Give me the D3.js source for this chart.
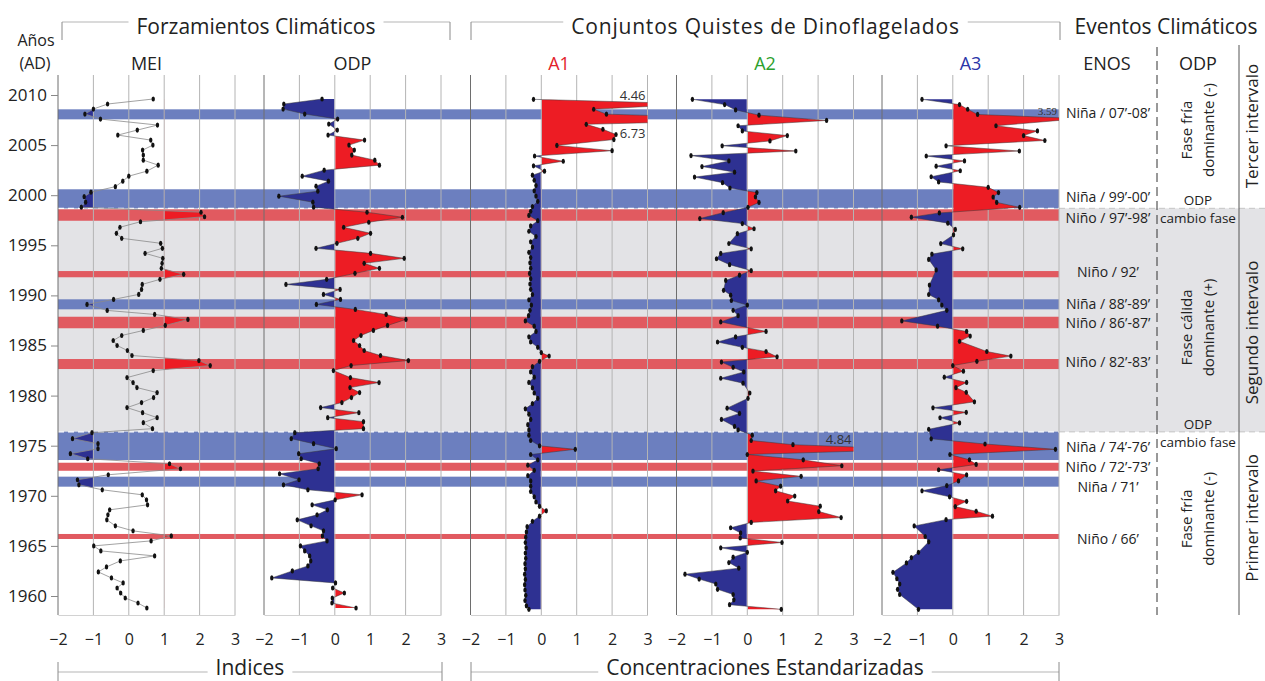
<!DOCTYPE html>
<html>
<head>
<meta charset="utf-8">
<script src="https://cdn.jsdelivr.net/npm/d3@7"></script>
<style>
body { margin:0; background:#fff; }
svg text { font-family: "Open Sans", sans-serif; fill:#222; }
</style>
</head>
<body>
<svg id="chart" width="1265" height="681"></svg>
<script>
// series are [year, value]
var meiData = [
[2009.6,0.69],[2009.1,-0.60],[2008.6,-1.00],[2008.1,-1.24],[2007.6,-0.80],[2007.0,0.81],[2006.5,0.24],[2006.0,-0.31],[2005.5,0.62],[2005.0,0.68],
[2004.5,0.39],[2004.0,0.41],[2003.5,0.41],[2003.0,0.83],[2002.4,0.51],[2001.9,0.00],[2001.4,-0.17],[2000.85,-0.38],[2000.3,-1.07],[1999.85,-1.26],
[1999.3,-1.22],[1998.8,-1.34],[1998.3,2.04],[1997.85,2.14],[1997.35,0.33],[1996.8,-0.25],[1996.2,-0.35],[1995.7,-0.20],[1995.2,0.90],[1994.7,0.95],
[1994.2,0.46],[1993.7,0.96],[1993.2,0.94],[1992.7,0.92],[1992.1,1.55],[1991.6,0.88],[1991.1,0.38],[1990.6,0.36],[1990.1,0.28],[1989.6,-0.43],
[1989.1,-1.18],[1988.5,-0.61],[1988.1,0.73],[1987.6,1.67],[1987.0,1.03],[1986.5,0.41],[1986.0,-0.20],[1985.5,-0.44],[1985.0,-0.33],[1984.5,-0.04],
[1984.0,0.09],[1983.5,1.98],[1983.0,2.30],[1982.5,0.69],[1981.8,-0.05],[1981.3,0.12],[1980.8,0.23],[1980.3,0.80],[1979.8,0.70],[1979.3,0.36],
[1978.8,-0.05],[1978.3,0.39],[1977.8,0.80],[1977.3,0.41],[1976.7,0.67],[1976.3,-1.04],[1975.7,-1.59],[1975.2,-0.87],[1974.7,-0.87],[1974.2,-1.65],
[1973.7,-1.16],[1973.2,1.15],[1972.7,1.46],[1972.1,-0.58],[1971.6,-1.45],[1971.1,-1.41],[1970.6,-0.75],[1970.1,0.38],[1969.6,0.50],[1969.1,0.53],
[1968.6,-0.54],[1968.1,-0.59],[1967.6,-0.62],[1967.0,-0.38],[1966.5,0.12],[1966.0,1.20],[1965.5,0.63],[1965.0,-0.99],[1964.5,-0.79],[1964.0,0.73],
[1963.5,-0.24],[1962.9,-0.63],[1962.4,-0.86],[1961.8,-0.49],[1961.3,-0.16],[1960.8,-0.33],[1960.3,-0.23],[1959.8,-0.10],[1959.3,0.26],[1958.8,0.51]
];

var odpData = [
[2009.6,-0.36],[2009.1,-1.44],[2008.6,-1.46],[2008.1,-0.85],[2007.6,0.08],[2007.1,-0.17],[2006.5,0.07],[2006.0,-0.19],[2005.5,0.84],[2005.0,0.40],
[2004.5,0.55],[2004.0,0.48],[2003.5,1.13],[2003.0,1.26],[2002.5,-0.30],[2001.9,-0.92],[2001.4,-0.18],[2000.9,-0.53],[2000.4,-0.48],[1999.9,-1.58],
[1999.3,-0.62],[1998.8,-0.60],[1998.3,0.91],[1997.8,1.91],[1997.3,0.96],[1996.8,0.25],[1996.2,1.01],[1995.7,0.65],[1995.2,0.06],[1994.7,-0.53],
[1994.2,1.01],[1993.7,1.96],[1993.2,0.83],[1992.7,1.26],[1992.2,0.57],[1991.6,-0.23],[1991.1,-1.38],[1990.6,0.15],[1990.1,-0.32],[1989.6,0.16],
[1989.1,-0.52],[1988.6,0.58],[1988.1,1.45],[1987.6,2.01],[1987.0,1.49],[1986.5,1.09],[1986.0,0.74],[1985.5,0.53],[1985.0,0.70],[1984.5,0.83],
[1984.0,1.29],[1983.5,2.08],[1983.0,0.46],[1982.5,-0.04],[1981.8,0.44],[1981.3,1.25],[1980.8,0.43],[1980.3,0.70],[1979.8,0.47],[1979.3,0.20],
[1978.8,-0.40],[1978.3,0.68],[1977.8,-0.20],[1977.4,0.81],[1976.7,0.81],[1976.3,-1.13],[1975.7,-1.23],[1975.2,-0.60],[1974.7,0.04],[1974.2,-1.02],
[1973.7,-0.95],[1973.2,-0.44],[1972.7,-0.47],[1972.2,-1.56],[1971.6,-1.01],[1971.1,-1.45],[1970.6,-0.76],[1970.1,0.77],[1969.6,0.01],[1969.1,-0.64],
[1968.6,-0.21],[1968.1,-0.50],[1967.6,-1.06],[1967.0,-0.67],[1966.5,-0.32],[1966.0,-0.35],[1965.5,-0.22],[1965.0,-0.97],[1964.5,-0.85],[1964.0,-0.71],
[1963.5,-0.68],[1963.0,-0.76],[1962.5,-1.20],[1961.8,-1.78],[1961.3,0.02],[1960.8,-0.06],[1960.3,0.27],[1959.8,-0.07],[1959.3,-0.08],[1958.8,0.60]
];

var a1Data = [
[2009.57,-0.22],[2009.11,4.46],[2008.58,1.48],[2008.09,1.84],[2007.57,6.73],[2007.07,1.27],[2006.58,1.74],[2006.06,2.11],[2005.55,2.05],[2004.97,0.44],
[2004.44,2.00],[2003.91,-0.19],[2003.39,0.62],[2002.93,-0.22],[2002.40,0.09],[2002.0,-0.25],[2001.49,-0.20],[2000.97,-0.15],[2000.44,-0.20],[1999.91,-0.15],
[1999.39,-0.10],[1998.86,-0.25],[1998.4,-0.30],[1997.98,-0.35],[1997.46,-0.10],[1996.93,-0.30],[1996.40,-0.35],[1995.88,-0.15],[1995.35,-0.30],[1994.82,-0.25],
[1994.30,-0.35],[1993.77,-0.30],[1993.25,-0.32],[1992.72,-0.30],[1992.19,-0.33],[1991.67,-0.30],[1991.14,-0.32],[1990.61,-0.30],[1990.09,-0.25],[1989.56,-0.35],
[1989.03,-0.28],[1988.51,-0.32],[1987.98,-0.36],[1987.45,-0.45],[1986.93,-0.20],[1986.40,-0.15],[1985.87,-0.35],[1985.35,-0.30],[1984.82,-0.10],[1984.29,0.00],
[1983.94,0.22],[1983.42,-0.05],[1982.89,-0.25],[1982.36,-0.30],[1981.84,-0.20],[1981.31,-0.35],[1980.78,-0.25],[1980.26,-0.20],[1979.73,-0.10],[1979.20,-0.25],
[1978.68,-0.45],[1978.15,-0.35],[1977.62,-0.30],[1977.10,-0.38],[1976.57,-0.35],[1976.05,-0.35],[1975.52,-0.30],[1974.99,-0.05],[1974.64,0.96],[1974.12,-0.30],
[1973.59,-0.10],[1973.06,-0.38],[1972.54,-0.20],[1972.01,-0.38],[1971.48,-0.30],[1970.96,-0.30],[1970.43,-0.30],[1969.90,-0.20],[1969.38,-0.15],[1968.95,-0.05],
[1968.50,0.14],[1967.97,-0.05],[1967.45,-0.25],[1966.92,-0.40],[1966.39,-0.42],[1965.87,-0.44],[1965.34,-0.45],[1964.81,-0.43],[1964.29,-0.45],[1963.76,-0.44],
[1963.23,-0.46],[1962.71,-0.45],[1962.18,-0.47],[1961.65,-0.45],[1961.13,-0.47],[1960.60,-0.46],[1960.07,-0.44],[1959.55,-0.46],[1959.02,-0.42],[1958.67,-0.35]
];

var a2Data = [
[2009.57,-1.55],[2009.04,-0.64],[2008.51,-0.33],[2007.99,0.33],[2007.46,2.24],[2006.93,-0.26],[2006.41,-0.14],[2005.95,1.13],[2005.42,0.64],[2004.93,-0.71],
[2004.41,1.37],[2003.95,-1.59],[2003.42,-0.52],[2002.86,-1.28],[2002.30,-0.36],[2001.81,-1.49],[2001.25,-0.70],[2000.72,-0.49],[2000.26,0.27],[1999.84,0.23],
[1999.28,0.33],[1998.79,0.02],[1998.26,-0.68],[1997.67,-1.34],[1997.17,-0.14],[1996.65,0.19],[1996.16,-0.28],[1995.18,-0.52],[1994.65,0.11],[1994.19,-0.75],
[1993.66,-0.87],[1993.07,-0.50],[1992.47,0.11],[1992.02,-0.22],[1991.49,-0.61],[1990.51,-0.67],[1990.02,-0.47],[1989.49,-0.45],[1989.03,0.00],[1988.51,-0.40],
[1987.98,-0.26],[1987.35,-0.75],[1986.40,0.53],[1985.87,-0.33],[1985.35,-0.84],[1984.82,-0.14],[1984.40,0.53],[1983.87,0.84],[1983.35,-0.73],[1982.82,-0.40],
[1982.36,-0.10],[1981.73,-0.75],[1981.24,-0.12],[1980.26,0.07],[1979.73,0.02],[1978.75,-0.57],[1978.22,-0.22],[1977.62,-0.73],[1976.92,-0.36],[1976.57,-0.26],
[1976.05,0.14],[1975.52,0.11],[1975.10,1.29],[1974.64,4.84],[1974.12,0.00],[1973.59,1.58],[1973.00,2.67],[1972.47,0.16],[1971.94,1.52],[1971.48,0.25],
[1970.96,0.94],[1970.50,0.80],[1969.97,1.34],[1969.48,1.14],[1968.96,2.06],[1968.43,2.02],[1967.83,2.65],[1967.34,0.11],[1966.81,-0.47],[1966.29,-0.19],
[1965.80,-0.20],[1965.34,0.98],[1964.81,-0.75],[1964.36,0.00],[1963.87,-0.40],[1963.34,-0.52],[1962.78,-0.24],[1962.18,-1.76],[1961.69,-1.36],[1961.20,-0.89],
[1960.67,-0.84],[1960.15,-0.40],[1959.62,-0.38],[1959.13,-0.50],[1958.67,0.96]
];

var a3Data = [
[2009.57,-0.87],[2009.04,0.19],[2008.58,0.42],[2008.06,0.70],[2007.64,3.59],[2006.93,1.22],[2006.41,2.39],[2005.95,2.00],[2005.46,2.60],[2004.93,-0.19],
[2004.41,1.88],[2003.91,-0.75],[2003.42,0.33],[2002.90,-0.47],[2002.44,0.21],[2001.84,-0.61],[2001.32,-0.40],[2000.79,1.00],[2000.26,1.29],[1999.81,1.14],
[1999.28,1.24],[1998.79,1.89],[1998.23,-0.38],[1997.81,-1.17],[1997.21,-0.14],[1996.58,0.07],[1996.05,0.02],[1995.17,-0.34],[1994.65,0.28],[1994.12,-0.59],
[1993.59,-0.68],[1992.54,-0.47],[1991.03,-0.66],[1990.09,-0.68],[1989.56,-0.40],[1989.03,-0.31],[1988.51,-0.17],[1987.45,-1.44],[1986.93,-0.43],[1986.40,0.39],
[1985.94,0.49],[1985.42,0.19],[1984.40,0.96],[1983.94,1.64],[1983.42,0.68],[1983.00,0.00],[1982.44,0.30],[1981.84,-0.24],[1981.31,0.39],[1980.79,0.09],
[1980.33,0.38],[1979.38,0.61],[1978.78,-0.56],[1978.33,0.38],[1977.79,-0.36],[1977.27,0.19],[1976.64,-0.68],[1975.69,-0.61],[1975.17,0.91],[1974.64,2.90],
[1974.12,-0.08],[1973.59,0.47],[1973.13,0.66],[1972.60,-0.40],[1972.08,0.39],[1971.48,0.16],[1971.02,-0.17],[1970.50,-0.87],[1969.90,-0.09],[1969.45,0.39],
[1968.92,0.07],[1968.46,0.66],[1967.97,1.12],[1967.62,-0.19],[1966.99,-1.09],[1965.94,-0.78],[1965.41,-0.68],[1964.36,-0.97],[1963.83,-1.17],[1963.30,-1.31],
[1962.36,-1.69],[1961.72,-1.58],[1961.20,-1.50],[1960.67,-1.56],[1960.15,-1.50],[1958.67,-0.97]
];

var panelNames = ["MEI", "ODP", "A1", "A2", "A3"];
var panelTitleColors = ["#222", "#222", "#e3222b", "#2ca02c", "#2b35a8"];
var xTicks = [-2, -1, 0, 1, 2, 3];
var yearTicks = [1960, 1965, 1970, 1975, 1980, 1985, 1990, 1995, 2000, 2005, 2010];

// El Niño / La Niña bands [from year, to year]
var ninaBands = [[2008.57, 2007.57], [2000.59, 1998.69], [1989.61, 1988.61], [1976.40, 1973.57], [1971.91, 1970.91]];
var ninoBands = [[1998.59, 1997.45], [1992.43, 1991.81], [1987.87, 1986.72], [1983.65, 1982.65], [1973.30, 1972.50], [1966.19, 1965.69]];
var secondInterval = [1998.69, 1976.38];

var ensoLabels = [
["Niña / 07’-08’", 2008.2], ["Niña / 99’-00’", 1999.8], ["Niño / 97’-98’", 1997.7], ["Niño / 92’", 1992.3],
["Niña / 88’-89’", 1989.1], ["Niño / 86’-87’", 1987.2], ["Niño / 82’-83’", 1983.3], ["Niña / 74’-76’", 1974.9],
["Niño / 72’-73’", 1972.9], ["Niña / 71’", 1970.9], ["Niño / 66’", 1965.7]
];
var odpPhaseLabels = [
[["Fase fría", "dominante (-)"], 2006.5],
[["Fase cálida", "dominante (+)"], 1986.8],
[["Fase fría", "dominante (-)"], 1967.7]
];
var odpShiftLabels = [1998.2, 1975.8];
var intervalLabels = [["Tercer intervalo", 2006.9], ["Segundo intervalo", 1986.3], ["Primer intervalo", 1967.8]];

// values beyond the axis, written next to the clipped peak
var peakLabels = [
{panel: 2, text: "4.46", year: 2009.11, dy: -4},
{panel: 2, text: "6.73", year: 2007.57, dy: 19},
{panel: 3, text: "4.84", year: 1974.64, dy: -5},
{panel: 4, text: "3.59", year: 2007.64, dy: -4}
];

var svg = d3.select("#chart");
var defs = svg.append("defs");

var yScale = d3.scaleLinear().domain([2010, 1960]).range([95, 596]);
var plotTop = 75, plotBottom = 615;
var panelLeft = [58, 264, 470.5, 676.5, 882];
var panelWidth = 177;
var plotLeft = panelLeft[0];
var plotRight = panelLeft[4] + panelWidth;

var redFill = "#ed1c24", blueFill = "#2e3192";

var xScales = panelLeft.map(function(left)
{
    return d3.scaleLinear().domain([-2, 3]).range([left, left + panelWidth]);
});

// grey background of the second interval
var gTop = yScale(secondInterval[0]), gBot = yScale(secondInterval[1]);
svg.append("rect")
    .attr("x", plotLeft).attr("y", gTop)
    .attr("width", 1265 - plotLeft).attr("height", gBot - gTop)
    .attr("fill", "#e3e3e6");

var drawBands = function(bands, color)
{
    svg.append("g").selectAll("rect")
        .data(bands)
        .enter()
        .append("rect")
        .attr("x", plotLeft)
        .attr("width", plotRight - plotLeft)
        .attr("y", function(b){ return yScale(b[0]); })
        .attr("height", function(b){ return yScale(b[1]) - yScale(b[0]); })
        .attr("fill", color);
}
drawBands(ninaBands, "#6c7fbf");
drawBands(ninoBands, "#e15a60");

// dashed limits of the second interval
[gTop, gBot].forEach(function(y)
{
    svg.append("line").attr("x1", plotLeft).attr("x2", plotRight).attr("y1", y).attr("y2", y)
        .attr("stroke", "#fff").attr("stroke-width", 1.2).attr("stroke-dasharray", "6,4");
    svg.append("line").attr("x1", plotRight).attr("x2", 1265).attr("y1", y).attr("y2", y)
        .attr("stroke", "#c4c4c4").attr("stroke-width", 1).attr("stroke-dasharray", "6,4");
});

// gridlines and bottom axis of every panel
xScales.forEach(function(x, i)
{
    var grid = svg.append("g");
    grid.selectAll("line")
        .data(xTicks)
        .enter()
        .append("line")
        .attr("x1", function(d){ return x(d); })
        .attr("x2", function(d){ return x(d); })
        .attr("y1", plotTop)
        .attr("y2", plotBottom)
        .attr("stroke", function(d){ return d == -2 ? "#6e6e6e" : "#b4b4b4"; })
        .attr("stroke-width", 1);

    var axis = svg.append("g")
        .attr("transform", "translate(0," + plotBottom + ")")
        .call(d3.axisBottom(x).tickValues(xTicks).tickSize(0).tickPadding(19).tickFormat(d3.format("d")));
    axis.select(".domain").attr("stroke", "#d2d2d2");
    axis.selectAll("text").attr("font-size", 16).attr("fill", "#222")
        .style("font-family", '"Open Sans", sans-serif');

    svg.append("text")
        .attr("x", (x(-2) + x(3)) / 2)
        .attr("y", 70)
        .attr("text-anchor", "middle")
        .attr("font-size", 18)
        .style("fill", panelTitleColors[i])
        .text(panelNames[i]);
});

var makeClip = function(id, x0, x1)
{
    defs.append("clipPath").attr("id", id)
        .append("rect")
        .attr("x", x0).attr("y", plotTop)
        .attr("width", x1 - x0).attr("height", plotBottom - plotTop);
}

// fill between base and series, red to the right and blue to the left
var drawFill = function(g, data, x, redBase, blueBase, id)
{
    // half a pixel inside the base so flat parts leave no sliver
    makeClip(id + "r", x(redBase) + 0.6, x(3));
    makeClip(id + "b", x(-2), x(blueBase) - 0.6);
    var redArea = d3.area()
        .y(function(d){ return yScale(d[0]); })
        .x0(x(redBase))
        .x1(function(d){ return x(d[1]); });
    var blueArea = d3.area()
        .y(function(d){ return yScale(d[0]); })
        .x0(x(blueBase))
        .x1(function(d){ return x(d[1]); });
    g.append("path").datum(data).attr("d", redArea)
        .attr("fill", redFill).attr("clip-path", "url(#" + id + "r)");
    g.append("path").datum(data).attr("d", blueArea)
        .attr("fill", blueFill).attr("clip-path", "url(#" + id + "b)");
}

var drawLineAndDots = function(g, data, x, color, width, id)
{
    makeClip(id + "p", x(-2), x(3));
    var line = d3.line()
        .y(function(d){ return yScale(d[0]); })
        .x(function(d){ return x(d[1]); });
    g.append("path").datum(data).attr("d", line)
        .attr("fill", "none").attr("stroke", color).attr("stroke-width", width)
        .attr("clip-path", "url(#" + id + "p)");
    g.selectAll("ellipse")
        .data(data.filter(function(d){ return d[1] <= 3; }))
        .enter()
        .append("ellipse")
        .attr("cx", function(d){ return x(d[1]); })
        .attr("cy", function(d){ return yScale(d[0]); })
        .attr("rx", 1.7)
        .attr("ry", 2.6)
        .attr("fill", "#111");
}

var allSeries = [meiData, odpData, a1Data, a2Data, a3Data];
allSeries.forEach(function(data, i)
{
    var g = svg.append("g");
    var x = xScales[i];
    if (i == 0)
    {
        drawFill(g, data, x, 1, -1, "c" + i);
        drawLineAndDots(g, data, x, "#8a8a8a", 0.8, "c" + i);
    }
    else
    {
        drawFill(g, data, x, 0, 0, "c" + i);
        drawLineAndDots(g, data, x, "#3a3a3a", 0.5, "c" + i);
    }
});

peakLabels.forEach(function(p)
{
    var x = xScales[p.panel];
    svg.append("text")
        .attr("x", x(3) - 2)
        .attr("y", yScale(p.year) + p.dy)
        .attr("text-anchor", "end")
        .attr("font-size", p.panel == 4 ? 11 : 13)
        .style("font-family", p.panel == 4 ? '"Liberation Serif", serif' : '"Open Sans", sans-serif')
        .style("fill", "#333")
        .text(p.text);
});

// year axis
var yAxis = svg.append("g")
    .attr("transform", "translate(" + plotLeft + ",0)")
    .call(d3.axisLeft(yScale).tickValues(yearTicks).tickSize(7).tickPadding(4).tickFormat(d3.format("d")));
yAxis.select(".domain").remove();
yAxis.selectAll("line").attr("stroke", "#888");
yAxis.selectAll("text").attr("font-size", 17).attr("fill", "#222")
    .style("font-family", '"Open Sans", sans-serif');

svg.append("text").attr("x", 36).attr("y", 46).attr("text-anchor", "middle").attr("font-size", 16).text("Años");
svg.append("text").attr("x", 35).attr("y", 69).attr("text-anchor", "middle").attr("font-size", 16).text("(AD)");

// bracketed group titles
var drawBracket = function(x1, x2, yLine, yEnd1, yEnd2, label, textY, spacing)
{
    var cx = (x1 + x2) / 2;
    var t = svg.append("text")
        .attr("x", cx).attr("y", textY)
        .attr("text-anchor", "middle")
        .attr("font-size", 21)
        .attr("letter-spacing", spacing)
        .text(label);
    var w = t.node().getComputedTextLength();
    svg.append("line").attr("x1", x1).attr("x2", cx - w / 2 - 8).attr("y1", yLine).attr("y2", yLine)
        .attr("stroke", "#b5b5b5");
    svg.append("line").attr("x1", cx + w / 2 + 8).attr("x2", x2).attr("y1", yLine).attr("y2", yLine)
        .attr("stroke", "#b5b5b5");
    [x1, x2].forEach(function(x)
    {
        svg.append("line").attr("x1", x).attr("x2", x).attr("y1", yEnd1).attr("y2", yEnd2)
            .attr("stroke", "#8a8a8a");
    });
}
drawBracket(62, 450, 22, 22, 40, "Forzamientos Climáticos", 34, 0);
drawBracket(471, 1060, 22, 22, 40, "Conjuntos Quistes de Dinoflagelados", 34, 0.8);
drawBracket(58, 442, 672, 662, 681, "Indices", 675, 0);
drawBracket(471, 1059, 672, 662, 681, "Concentraciones Estandarizadas", 675, 0);

svg.append("text").attr("x", 1166).attr("y", 34).attr("text-anchor", "middle").attr("font-size", 21).text("Eventos Climáticos");

// climatic events columns
svg.append("text").attr("x", 1107).attr("y", 70).attr("text-anchor", "middle").attr("font-size", 18).text("ENOS");
svg.append("text").attr("x", 1198).attr("y", 70).attr("text-anchor", "middle").attr("font-size", 18).text("ODP");

svg.append("line").attr("x1", 1157).attr("x2", 1157).attr("y1", 47).attr("y2", plotBottom)
    .attr("stroke", "#333").attr("stroke-dasharray", "9,5");
svg.append("line").attr("x1", 1239).attr("x2", 1239).attr("y1", 45).attr("y2", plotBottom)
    .attr("stroke", "#555");

svg.append("g").selectAll("text")
    .data(ensoLabels)
    .enter()
    .append("text")
    .attr("x", 1108)
    .attr("y", function(d){ return yScale(d[1]); })
    .attr("dy", "0.35em")
    .attr("text-anchor", "middle")
    .attr("font-size", 14)
    .text(function(d){ return d[0]; });

odpPhaseLabels.forEach(function(d)
{
    var y = yScale(d[1]);
    d[0].forEach(function(line, k)
    {
        svg.append("text")
            .attr("transform", "translate(" + (1187 + k * 22) + "," + y + ") rotate(-90)")
            .attr("text-anchor", "middle")
            .attr("dy", "0.35em")
            .attr("font-size", 15)
            .text(line);
    });
});

odpShiftLabels.forEach(function(yr)
{
    var y = yScale(yr);
    svg.append("text").attr("x", 1198).attr("y", y - 13).attr("dy", "0.35em")
        .attr("text-anchor", "middle").attr("font-size", 13.5).text("ODP");
    svg.append("text").attr("x", 1198).attr("y", y + 5).attr("dy", "0.35em")
        .attr("text-anchor", "middle").attr("font-size", 13.5).text("cambio fase");
});

intervalLabels.forEach(function(d)
{
    svg.append("text")
        .attr("transform", "translate(1252," + yScale(d[1]) + ") rotate(-90)")
        .attr("text-anchor", "middle")
        .attr("dy", "0.35em")
        .attr("font-size", 17)
        .text(d[0]);
});
</script>
</body>
</html>
